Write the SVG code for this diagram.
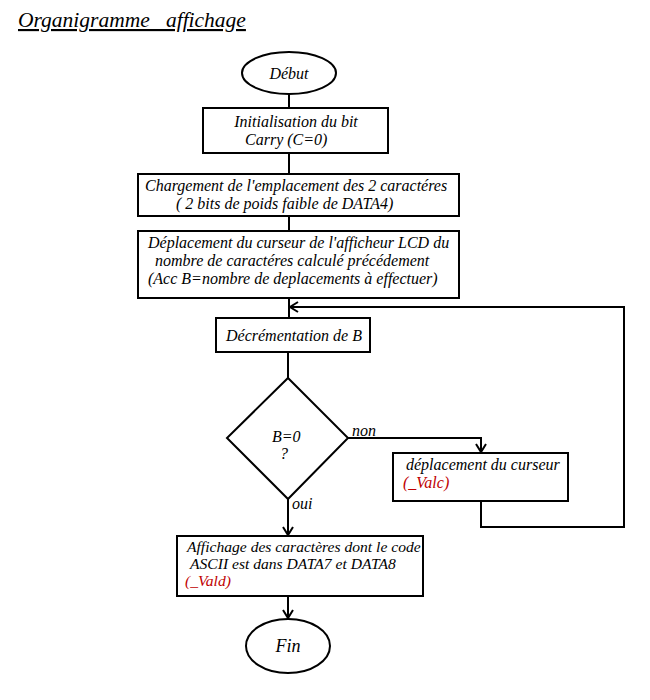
<svg xmlns="http://www.w3.org/2000/svg" width="650" height="700" viewBox="0 0 650 700">
<style>
.t{font-family:"Liberation Serif","Times New Roman",serif;font-style:italic;font-size:16px;fill:#000}
.r{fill:#c00000}
.s{fill:#fff;stroke:#000;stroke-width:2}
.c{fill:none;stroke:#000;stroke-width:2}
</style>
<defs>
<marker id="a" markerWidth="12" markerHeight="12" refX="10" refY="6" orient="auto" markerUnits="userSpaceOnUse">
<path d="M2,1 L10,6 L2,11" fill="none" stroke="#000" stroke-width="2"/>
</marker>
</defs>
<rect width="650" height="700" fill="#fff"/>
<text x="18" y="27" class="t" style="font-size:21.5px;text-decoration:underline">Organigramme _affichage</text>
<g id="connectors">
<line class="c" x1="289" y1="94" x2="289" y2="108"/>
<line class="c" x1="289" y1="153" x2="289" y2="174"/>
<line class="c" x1="289" y1="216" x2="289" y2="231"/>
<line class="c" x1="289" y1="298" x2="289" y2="318"/>
<line class="c" x1="288" y1="352" x2="288" y2="378"/>
<polyline class="c" points="348,438 481,438 481,452" marker-end="url(#a)"/>
<polyline class="c" points="481,501 481,527 624,527 624,307 290,307" marker-end="url(#a)"/>
<line class="c" x1="288" y1="499" x2="288" y2="535" marker-end="url(#a)"/>
<line class="c" x1="288" y1="596" x2="288" y2="618" marker-end="url(#a)"/>
<text x="352" y="436" class="t">non</text>
<text x="292" y="509" class="t">oui</text>
</g>
<g id="debut">
<ellipse class="s" cx="289" cy="73" rx="47" ry="21"/>
<text x="289" y="79" class="t" text-anchor="middle">Début</text>
</g>
<g id="init">
<rect class="s" x="203" y="108" width="185" height="45"/>
<text x="296" y="127" class="t" text-anchor="middle">Initialisation du bit</text>
<text x="245" y="145" class="t">Carry (C=0)</text>
</g>
<g id="chargement">
<rect class="s" x="138" y="174" width="321" height="42"/>
<text x="145" y="191" class="t">Chargement de l'emplacement des 2 caractéres</text>
<text x="176" y="209" class="t">( 2 bits de poids faible de DATA4)</text>
</g>
<g id="deplacement">
<rect class="s" x="138" y="231" width="321" height="67"/>
<text x="148" y="248" class="t">Déplacement du curseur de l'afficheur LCD du</text>
<text x="155" y="266" class="t">nombre de caractéres calculé précédement</text>
<text x="148" y="284" class="t">(Acc B=nombre de deplacements à effectuer)</text>
</g>
<g id="decrementation">
<rect class="s" x="216" y="318" width="154" height="34"/>
<text x="226" y="341" class="t">Décrémentation de B</text>
</g>
<g id="test">
<polygon class="s" points="288,378 348,438 288,499 227,438"/>
<text x="272" y="442" class="t">B=0</text>
<text x="280" y="459" class="t">?</text>
</g>
<g id="curseur">
<rect class="s" x="393" y="453" width="175" height="48"/>
<text x="406" y="470" class="t">déplacement du curseur</text>
<text x="403" y="488" class="t r">(_Valc)</text>
</g>
<g id="affichage">
<rect class="s" x="177" y="536" width="246" height="60"/>
<text x="187" y="552" class="t" style="font-size:15.6px">Affichage des caractères dont le code</text>
<text x="190" y="569" class="t" style="font-size:15.6px">ASCII est dans DATA7 et DATA8</text>
<text x="185" y="586" class="t r" style="font-size:15.6px">(_Vald)</text>
</g>
<g id="fin">
<ellipse class="s" cx="288" cy="646" rx="42" ry="27"/>
<text x="288" y="652" class="t" text-anchor="middle" style="font-size:18px">Fin</text>
</g>
</svg>
